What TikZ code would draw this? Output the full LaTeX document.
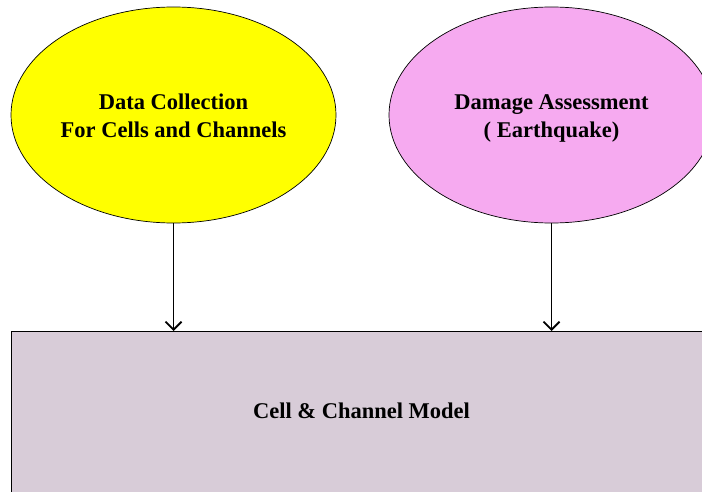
\documentclass[tikz,border=0pt]{standalone}
\usepackage{fontspec}
\setmainfont{Liberation Serif}
\usetikzlibrary{shapes.geometric,arrows.meta}
\definecolor{dcyellow}{RGB}{255,255,0}
\definecolor{dapink}{RGB}{246,170,240}
\definecolor{modelgrey}{RGB}{216,204,216}
\newcommand{\toppad}{\rule{0pt}{25.6pt}}
\begin{document}
\begin{tikzpicture}[x=1pt,y=1pt,
  bubble/.style={ellipse,draw=black,line width=0.7pt,minimum width=325pt,minimum height=216pt,inner sep=0pt,
    font=\fontsize{22.5}{28}\selectfont\bfseries,align=center},
  modelbox/.style={rectangle,draw=black,line width=0.8pt,fill=modelgrey,minimum width=701pt,minimum height=180pt,inner sep=0pt,anchor=north west},
  feed/.style={-{Straight Barb[length=8pt,width=16pt,line width=1.8pt]},line width=1.8pt}]
\useasboundingbox (0,0) rectangle (702,491);
\clip (0,0) rectangle (702,491);
\node[bubble,fill=dcyellow] (dc) at (173.5,376) {\toppad Data Collection\\\strut For Cells and Channels};
\node[bubble,fill=dapink] (da) at (551.5,376) {\toppad Damage Assessment\\\strut ( Earthquake)};
\node[modelbox] (model) at (11,160) {};
\node[font=\fontsize{22.5}{26}\selectfont\bfseries] (modeltext) at (361.5,80) {Cell \& Channel Model};
\draw[feed] (dc.south) -- (dc.south |- model.north);
\draw[feed] (da.south) -- (da.south |- model.north);
\end{tikzpicture}
\end{document}
